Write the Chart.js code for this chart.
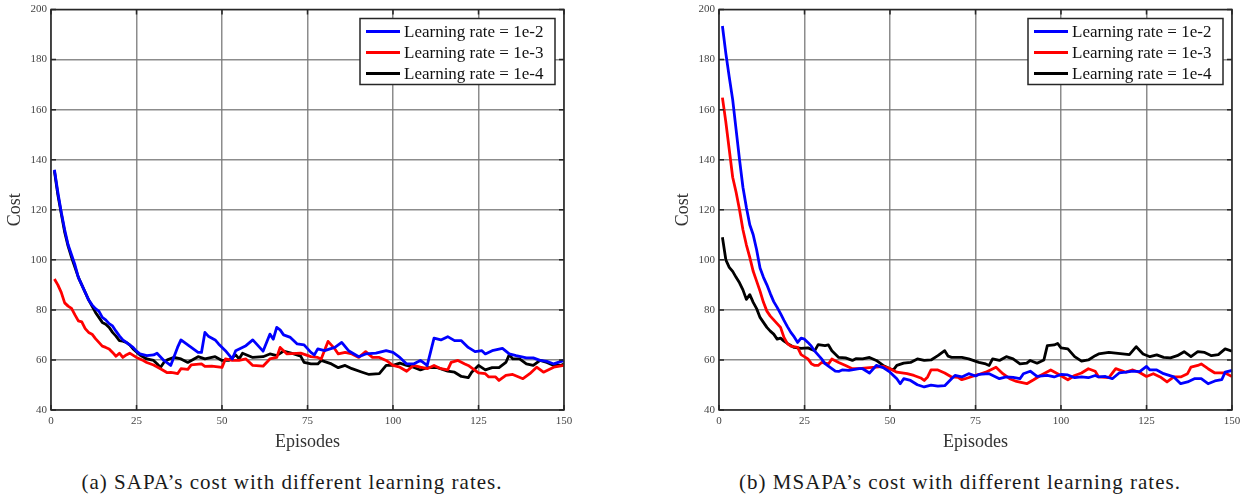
<!DOCTYPE html>
<html>
<head>
<meta charset="utf-8">
<script src="https://cdn.jsdelivr.net/npm/chart.js@4.4.1/dist/chart.umd.min.js"></script>
<style>
  body { margin: 0; background: #fff; width: 1251px; height: 502px; overflow: hidden; position: relative; }
  canvas { position: absolute; top: 0; }
  .caption { position: absolute; top: 470px; font-family: 'Liberation Serif', 'Times New Roman', serif; font-size: 21px; letter-spacing: 1px; color: #1a1a1a; text-align: center; white-space: nowrap; }
</style>
</head>
<body>
<canvas id="sapa" width="583" height="460" style="left:0px"></canvas>
<canvas id="msapa" width="583" height="460" style="left:668px"></canvas>
<div class="caption" style="left:42px;width:500px">(a) SAPA’s cost with different learning rates.</div>
<div class="caption" style="left:710px;width:500px">(b) MSAPA’s cost with different learning rates.</div>
<script>
// labels
const seriesLabels = ['Learning rate = 1e-2', 'Learning rate = 1e-3', 'Learning rate = 1e-4'];
const seriesColors = ['#0000ff', '#ff0000', '#000000'];
const xTicks = [0, 25, 50, 75, 100, 125, 150];
const yTicks = [40, 60, 80, 100, 120, 140, 160, 180, 200];

// (a) SAPA, lr = 1e-2
const sapaEp1 = [1,2,3,4,5,6,7,8,9,10,11,12,13,14,15,16,17,18,19,20,21,22,23,24,25,26,28,30,31,33,35,37,38,39,41,43,44,45,46,48,49,51,53,54,57,59,60,62,64,65,66,67,68,70,72,74,76,77,78,80,83,85,87,90,92,95,98,100,102,104,106,108,110,112,114,116,118,120,122,124,126,127,129,132,134,136,139,141,143,145,147,150];
const sapaCost1 = [136,127,119,112,106,102,98,93,90,87,84,82,80.5,79.5,77,76,74.5,73.6,71.5,69.6,68,67,66,65,63.5,62.4,61.7,62,62.7,59.8,57.8,65,68,67,65,63,63,71,69.5,68,66.4,63.7,60.4,63.7,65.7,68,66.5,63.5,70.3,68.3,73,72,70,69,66.4,66,63,62,64.4,63.7,65,67,63.7,61.3,62.4,62.7,63.7,63,61,58.4,58.4,59.8,57.8,68.7,68,69.3,67.7,67.7,65,63.3,63.7,62.4,63.7,64.6,62.4,61.7,60.8,60.8,59.8,59.4,58.4,59.8];
// (a) SAPA, lr = 1e-3
const sapaEp2 = [1,2,3,4,5,6,7,8,9,10,11,12,13,14,15,16,17,18,19,20,21,22,23,25,27,28,30,32,34,35,36,37,38,40,41,44,45,47,50,51,53,55,57,59,62,64,66,67,69,73,76,78,79,81,83,84,86,88,90,92,94,96,98,100,102,104,106,108,110,112,114,116,117,119,121,122,124,125,127,128,130,131,133,135,138,140,142,144,147,150];
const sapaCost2 = [92.3,90,87,82.8,81.5,80.6,78,75.6,75.2,72.5,71,70.3,68.5,67,65.5,65,64.4,63,61.5,62.7,61,62,62.7,61,59.8,59,58,56.5,54.9,55,54.8,54.5,56.5,56.2,58,58.4,57.4,57.5,57,60.4,59.8,59.8,60.4,57.8,57.5,60.4,61,65,62.4,62.7,61.3,61,60.4,67.4,64.4,62.4,63,62.4,61,63.3,61,61,59.8,57.8,57.1,55.5,57.8,57.1,56.5,57.8,56.5,56,59,59.8,58.4,57.8,55.8,54.8,54.5,53.2,53.2,51.8,53.8,54.2,52.5,54.5,57.1,55.1,57.1,57.8];
// (a) SAPA, lr = 1e-4
const sapaEp3 = [1,2,3,4,5,6,7,8,9,10,11,12,13,14,15,16,17,18,19,20,21,22,23,24,26,28,30,31,32,33,34,36,38,40,43,45,48,50,52,54,55,56,59,62,64,66,68,71,73,74,76,78,79,82,84,86,88,91,93,96,98,100,102,104,106,108,110,113,116,118,120,122,123,125,127,129,131,133,134,135,137,139,141,143,145,147,149,150];
const sapaCost3 = [135.5,126,118.5,111,105.5,101,97,93,90,87,84,81.5,79,77,75,74.3,73,71,69.5,67.7,67.5,67,66,64.4,62,60.4,59.8,58.5,57,59,60,61,60.4,59,61.3,60.4,61.3,59.8,59.8,62,60.4,62.7,61,61.3,62.4,61.7,63.5,62.4,61.5,59,58.4,58.4,59.8,58.4,56.9,57.8,56.5,55.1,54.2,54.5,57.8,57.8,58.7,57.8,57.1,56,56.9,56.9,55.5,55.1,53.4,52.9,55.1,57.8,56,56.9,56.9,59,62.1,60.4,60.4,58.4,57.8,59.8,59,57.8,57.8,58.4];

// (b) MSAPA, lr = 1e-2
const msapaEp1 = [1,2,3,4,5,6,7,8,9,10,11,12,13,14,15,16,17,18,19,20,21,22,23,24,25,26,27,28,30,31,32,33,34,35,36,38,41,42,44,46,48,50,52,53,54,56,58,60,62,64,66,68,69,71,73,75,76,79,82,84,86,88,89,91,93,96,98,100,102,104,106,108,110,111,113,115,117,119,121,123,125,126,128,130,133,135,137,139,141,143,145,147,148,150];
const msapaCost1 = [193.4,182.5,173,164,152,140,129,121,114,110,104,96.7,93,90,86.5,83.3,81,78.5,75.8,73.3,71,69.2,67,68.7,68.3,67,65.5,63.5,60.4,58.5,57.5,56.5,55.5,55.4,56,55.8,56.5,56.5,54.8,57.8,56.9,55.1,52.5,50.5,52.5,51.8,50.1,49.2,49.9,49.5,49.7,52.5,53.8,53.2,54.5,53.6,54.2,54.5,52.5,53.2,53,52.5,54.5,55.5,53.4,53.8,53.2,54.2,54,52.9,53.2,52.9,53.8,53.2,53.4,52.5,54.8,55.1,55.5,55.3,57.4,56,56,54.5,53.2,50.5,51.2,52.5,52.5,50.5,51.6,52.1,55.1,55.8];
// (b) MSAPA, lr = 1e-3
const msapaEp2 = [1,2,3,4,5,6,7,8,9,10,11,12,13,14,15,16,17,18,19,20,21,23,24,26,27,28,29,30,32,33,35,37,39,41,44,46,48,50,52,55,57,59,60,61,62,64,66,68,70,71,72,74,76,78,81,83,85,87,90,92,94,97,99,102,104,106,108,110,111,114,116,119,121,123,125,127,129,131,133,135,137,138,140,141,143,145,148,150];
const msapaCost2 = [164.8,155,144,133,127,120,112,106,101,95.4,91.5,87.5,83,79.5,77.5,76,74.5,73,69,66.5,65.5,65,62.1,60.4,58.5,57.8,57.8,59,58.4,60.4,59,57.8,56.5,56.5,56.9,57.1,57.4,56.5,55.1,54.5,53.8,52.8,51.8,53.2,56,56,54.8,53.2,53,52.1,52.5,53.4,54.2,55.1,57.1,54.5,52.5,51.4,50.5,52.1,53.8,56,54.5,52.1,53.8,54.8,56.5,55.5,53.2,52.9,56.5,55.1,56,55,53.4,54.5,53.2,51.2,53.2,53.2,54.5,57.1,57.8,58.4,56.5,54.8,54.8,53.4];
// (b) MSAPA, lr = 1e-4
const msapaEp3 = [1,2,3,4,5,6,7,8,9,10,11,12,13,14,15,16,17,18,19,20,22,24,26,28,29,31,32,33,35,37,39,40,42,44,46,48,50,51,52,54,56,58,60,62,64,66,67,68,71,73,76,78,79,80,82,84,86,88,90,91,93,95,96,98,99,100,102,104,106,108,110,111,114,116,118,120,122,124,126,128,130,132,134,136,138,140,142,144,146,148,150];
const msapaCost3 = [109,100,97,95.4,93,90.8,88,84.2,86.1,83,80.5,77,75,73,71.5,70.3,68.3,68.7,67.5,66.6,65,64.6,64.8,63.7,66.1,65.7,66,63.7,61,60.8,59.8,60.5,60.4,61,59.8,57.8,56.5,56,57.8,58.7,59,60.4,59.8,60,61.7,63.7,61.5,61,61,60.4,59,58.4,57.8,60.4,59.8,61.3,60.4,58.4,58.7,59.8,58.7,60,65.7,66,66.6,64.8,64.4,61.3,59.5,60,61.7,62.4,63,62.7,62.4,62.1,65.3,62.4,61.3,62,61,60.8,61.7,63.3,61.3,63.3,63,61.7,62.1,64.4,63.5];

const serif = "'Liberation Serif', 'Times New Roman', serif";

// khung, vạch chia hướng vào trong và chú thích kiểu MATLAB
const matlabFrame = {
    id: 'matlabFrame',
    afterDraw(chart) {
        const ctx = chart.ctx;
        const a = chart.chartArea;
        const xs = chart.scales.x, ys = chart.scales.y;
        ctx.save();
        ctx.strokeStyle = '#262626';
        ctx.lineWidth = 1.5;
        ctx.strokeRect(a.left, a.top, a.right - a.left, a.bottom - a.top);
        ctx.beginPath();
        xTicks.forEach(t => {
            const px = xs.getPixelForValue(t);
            ctx.moveTo(px, a.bottom); ctx.lineTo(px, a.bottom - 5);
            ctx.moveTo(px, a.top); ctx.lineTo(px, a.top + 5);
        });
        yTicks.forEach(t => {
            const py = ys.getPixelForValue(t);
            ctx.moveTo(a.left, py); ctx.lineTo(a.left + 5, py);
            ctx.moveTo(a.right, py); ctx.lineTo(a.right - 5, py);
        });
        ctx.stroke();

        // legend box
        const bw = 195, bh = 66;
        const bx = a.right - 9 - bw, by = a.top + 9;
        ctx.fillStyle = '#fff';
        ctx.fillRect(bx, by, bw, bh);
        ctx.strokeRect(bx, by, bw, bh);
        ctx.font = '17px ' + serif;
        ctx.textBaseline = 'middle';
        chart.data.datasets.forEach((ds, i) => {
            const ry = by + 13 + i * 21;
            ctx.strokeStyle = ds.borderColor;
            ctx.lineWidth = 2.8;
            ctx.beginPath();
            ctx.moveTo(bx + 6, ry); ctx.lineTo(bx + 40, ry);
            ctx.stroke();
            ctx.fillStyle = '#111';
            ctx.fillText(ds.label, bx + 44, ry + 1);
        });
        ctx.restore();
    }
};

function makeChart(id, eps, costs) {
    const datasets = seriesLabels.map((label, i) => ({
        label: label,
        data: eps[i].map((e, j) => ({ x: e, y: costs[i][j] })),
        borderColor: seriesColors[i],
        borderWidth: 2.8,
        pointRadius: 0,
        tension: 0,
        borderJoinStyle: 'round',
        fill: false
    }));
    return new Chart(document.getElementById(id), {
        type: 'line',
        data: { datasets: datasets },
        options: {
            responsive: false,
            animation: false,
            devicePixelRatio: 1,
            layout: { padding: { left: 0, top: 6, right: 19, bottom: 7 } },
            plugins: { legend: { display: false }, tooltip: { enabled: false } },
            scales: {
                x: {
                    type: 'linear', min: 0, max: 150,
                    afterBuildTicks: s => { s.ticks = xTicks.map(v => ({ value: v })); },
                    afterFit: s => { s.height = 43; },
                    grid: { color: 'rgba(120,120,120,0.85)', lineWidth: 1.5, drawTicks: false },
                    border: { display: false },
                    ticks: { font: { family: serif, size: 11, lineHeight: 1 }, color: '#444', padding: 6, maxRotation: 0 },
                    title: { display: true, text: 'Episodes', font: { family: serif, size: 18 }, color: '#333', padding: { top: 0, bottom: 0 } }
                },
                y: {
                    type: 'linear', min: 40, max: 200,
                    afterBuildTicks: s => { s.ticks = yTicks.map(v => ({ value: v })); },
                    afterFit: s => { s.width = 51; },
                    grid: { color: 'rgba(120,120,120,0.85)', lineWidth: 1.5, drawTicks: false },
                    border: { display: false },
                    ticks: { font: { family: serif, size: 11, lineHeight: 1 }, color: '#444', padding: 4 },
                    title: { display: true, text: 'Cost', font: { family: serif, size: 18 }, color: '#333', padding: { top: 4, bottom: 0 } }
                }
            }
        },
        plugins: [matlabFrame]
    });
}

makeChart('sapa', [sapaEp1, sapaEp2, sapaEp3], [sapaCost1, sapaCost2, sapaCost3]);
makeChart('msapa', [msapaEp1, msapaEp2, msapaEp3], [msapaCost1, msapaCost2, msapaCost3]);
</script>
</body>
</html>
